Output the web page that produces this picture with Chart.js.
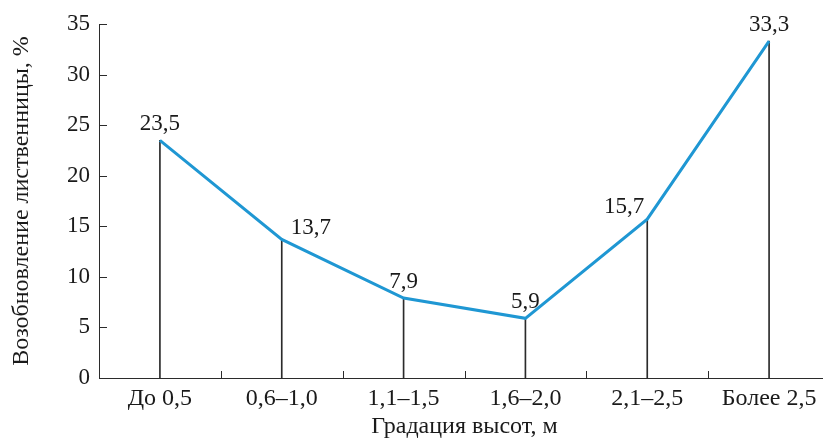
<!DOCTYPE html>
<html>
<head>
<meta charset="utf-8">
<script src="https://cdn.jsdelivr.net/npm/chart.js@4"></script>
<style>
  html, body { margin: 0; padding: 0; background: #fff; overflow: hidden; }
  #wrap { width: 840px; height: 444px; }
</style>
</head>
<body>
<div id="wrap"><canvas id="chart" width="840" height="444"></canvas></div>
<script>
"use strict";

const categories = ['До 0,5', '0,6–1,0', '1,1–1,5', '1,6–2,0', '2,1–2,5', 'Более 2,5'];
const renewal = [23.5, 13.7, 7.9, 5.9, 15.7, 33.3];
const yTicks = [0, 5, 10, 15, 20, 25, 30, 35];

const FONT = "'Liberation Serif', 'DejaVu Serif', serif";
const INK = '#2b2b2b';
const TEXT = '#1a1a1a';

// where each value label sits relative to its point
const labelPlace = ['center', 'right', 'center', 'center', 'left', 'center'];

const decorPlugin = {
  id: 'decor',
  afterDatasetsDraw(chart) {
    const { ctx, scales: { x, y } } = chart;
    ctx.save();
    ctx.strokeStyle = INK;
    ctx.lineWidth = 1;
    // y ticks pointing inward
    yTicks.forEach(v => {
      const py = Math.round(y.getPixelForValue(v)) + 0.5;
      ctx.beginPath();
      ctx.moveTo(x.left, py);
      ctx.lineTo(x.left + 8, py);
      ctx.stroke();
    });
    // small ticks between categories
    const half = (x.getPixelForValue(1) - x.getPixelForValue(0)) / 2;
    for (let i = 0; i < categories.length - 1; i++) {
      const px = Math.round(x.getPixelForValue(i) + half) + 0.5;
      ctx.beginPath();
      ctx.moveTo(px, y.bottom);
      ctx.lineTo(px, y.bottom - 7);
      ctx.stroke();
    }
    // value labels
    const meta = chart.getDatasetMeta(1);
    ctx.fillStyle = TEXT;
    ctx.font = '23px ' + FONT;
    ctx.textBaseline = 'alphabetic';
    meta.data.forEach((pt, i) => {
      const txt = renewal[i].toFixed(1).replace('.', ',');
      const place = labelPlace[i];
      if (place === 'right') {
        ctx.textAlign = 'left';
        ctx.fillText(txt, pt.x + 9, pt.y - 5);
      } else if (place === 'left') {
        ctx.textAlign = 'right';
        ctx.fillText(txt, pt.x - 3, pt.y - 6);
      } else {
        ctx.textAlign = 'center';
        ctx.fillText(txt, pt.x, pt.y - 10);
      }
    });
    ctx.restore();
  }
};

new Chart(document.getElementById('chart'), {
  data: {
    labels: categories,
    datasets: [
      {
        type: 'bar',
        data: renewal,
        backgroundColor: INK,
        barThickness: 1,
        order: 2
      },
      {
        type: 'line',
        data: renewal,
        borderColor: '#1f97d3',
        borderWidth: 3,
        pointRadius: 0,
        tension: 0,
        order: 1
      }
    ]
  },
  options: {
    responsive: false,
    animation: false,
    layout: { padding: { top: 24, right: 10, left: 0, bottom: 0 } },
    plugins: { legend: { display: false }, tooltip: { enabled: false } },
    scales: {
      x: {
        offset: true,
        grid: { display: false, drawTicks: false },
        border: { display: true, color: INK, width: 1 },
        ticks: { color: TEXT, font: { family: FONT, size: 24 }, padding: 6, maxRotation: 0 },
        title: {
          display: true,
          text: 'Градация высот, м',
          color: TEXT,
          font: { family: FONT, size: 24 },
          padding: { top: 0, bottom: 3 }
        },
        afterFit(scale) { scale.height = 66; }
      },
      y: {
        min: 0,
        max: 35,
        afterBuildTicks(scale) { scale.ticks = yTicks.map(v => ({ value: v })); },
        grid: { display: false, drawTicks: false },
        border: { display: true, color: INK, width: 1 },
        ticks: { color: TEXT, font: { family: FONT, size: 23 }, padding: 9 },
        title: {
          display: true,
          text: 'Возобновление лиственницы, %',
          color: TEXT,
          font: { family: FONT, size: 24 },
          padding: { top: 7, bottom: 0 }
        },
        afterFit(scale) { scale.width = 99; }
      }
    }
  },
  plugins: [decorPlugin]
});
</script>
</body>
</html>
